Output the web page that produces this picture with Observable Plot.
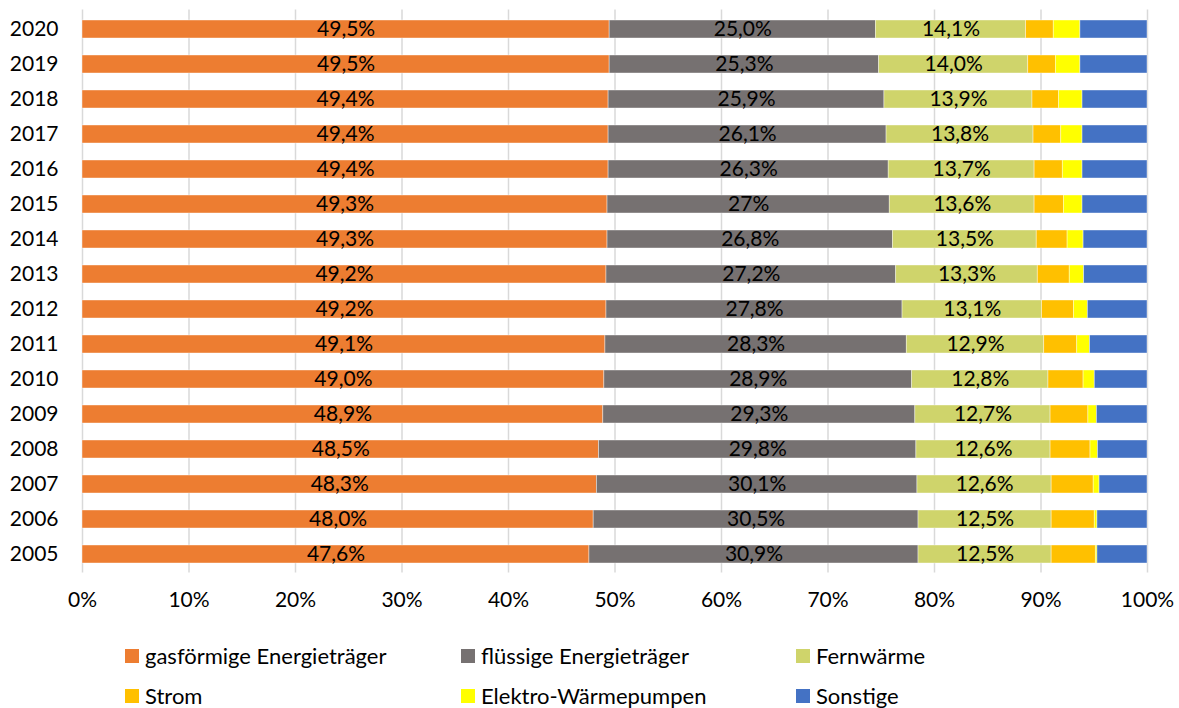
<!DOCTYPE html>
<html>
<head>
<meta charset="utf-8">
<script src="https://cdn.jsdelivr.net/npm/d3@7"></script>
<script src="https://cdn.jsdelivr.net/npm/@observablehq/plot@0.6"></script>
<style>
  html, body { margin: 0; padding: 0; background: #fff; }
  #wrap { position: relative; width: 1179px; height: 708px; font-family: Lato, "Open Sans", sans-serif; color: #000; }
  .item { position: absolute; display: flex; align-items: center; height: 14px; font-size: 22px; white-space: nowrap; }
  .sw { width: 14px; height: 14px; margin-right: 6px; flex: none; }
  .item span { line-height: 14px; }
</style>
</head>
<body>
<div id="wrap"><div id="chart"></div></div>
<script>
const years = ["2020","2019","2018","2017","2016","2015","2014","2013","2012","2011","2010","2009","2008","2007","2006","2005"];
const seriesNames = ["gasförmige Energieträger","flüssige Energieträger","Fernwärme","Strom","Elektro-Wärmepumpen","Sonstige"];
const seriesColors = ["#ED7D31","#767171","#CFD46B","#FFC000","#FFFF00","#4472C4"];
const gas      = [49.5,49.5,49.4,49.4,49.4,49.3,49.3,49.2,49.2,49.1,49.0,48.9,48.5,48.3,48.0,47.6];
const fluessig = [25.0,25.3,25.9,26.1,26.3,26.5,26.8,27.2,27.8,28.3,28.9,29.3,29.8,30.1,30.5,30.9];
const fernwaerme = [14.1,14.0,13.9,13.8,13.7,13.6,13.5,13.3,13.1,12.9,12.8,12.7,12.6,12.6,12.5,12.5];
const strom    = [2.6,2.6,2.5,2.6,2.65,2.75,2.9,3.0,3.0,3.1,3.3,3.55,3.75,3.95,4.05,4.15];
const waermepumpen = [2.5,2.3,2.2,2.0,1.85,1.75,1.5,1.35,1.3,1.2,1.05,0.8,0.7,0.55,0.25,0.15];
const sonstige = [6.3,6.3,6.1,6.1,6.1,6.1,6.0,5.95,5.6,5.4,4.95,4.75,4.65,4.5,4.7,4.7];
const xTicks = [0,10,20,30,40,50,60,70,80,90,100];
const labelledSeries = ["gasförmige Energieträger","flüssige Energieträger","Fernwärme"];
const labelOverrides = {"2015|flüssige Energieträger": "27%"};

const seriesValues = [gas, fluessig, fernwaerme, strom, waermepumpen, sonstige];
const data = [];
years.forEach((y, i) => {
  seriesNames.forEach((s, j) => data.push({year: y, series: s, value: seriesValues[j][i]}));
});
const fmt = d => {
  if (!labelledSeries.includes(d.series)) return null;
  const k = d.year + "|" + d.series;
  if (labelOverrides[k]) return labelOverrides[k];
  return d.value.toFixed(1).replace(".", ",") + "%";
};

const chart = Plot.plot({
  width: 1179,
  height: 620,
  marginLeft: 82,
  marginRight: 32,
  marginTop: 9.4,
  marginBottom: 47.4,
  style: {fontFamily: "Lato, 'Open Sans', sans-serif", fontSize: "21px", color: "#000", background: "#fff"},
  x: {domain: [0, 100], ticks: xTicks, tickFormat: d => d + "%", tickSize: 0, tickPadding: 20, label: null},
  y: {domain: years, paddingInner: 0.5, paddingOuter: 0.25, tickSize: 0, tickPadding: 24, label: null},
  color: {domain: seriesNames, range: seriesColors},
  marks: [
    Plot.gridX(xTicks, {stroke: "#d9d9d9", strokeOpacity: 1, strokeWidth: 1.5}),
    Plot.barX(data, {x: "value", y: "year", fill: "series", order: seriesNames, stroke: "#fff", strokeOpacity: 0.5, strokeWidth: 0.8}),
    Plot.text(data, Plot.stackX({x: "value", y: "year", z: "series", order: seriesNames, text: fmt, fontSize: 21, fill: "#000"})),
    Plot.axisX({ticks: xTicks, tickFormat: d => d + "%", tickSize: 0, tickPadding: 19, fontSize: 21, fill: "#000"}),
    Plot.axisY({tickSize: 0, tickPadding: 24, fontSize: 21, fill: "#000"})
  ]
});
document.getElementById("chart").appendChild(chart);

const legendCols = [125, 461, 796];
const legendRows = [649, 689];
const wrap = document.getElementById("wrap");
seriesNames.forEach((s, i) => {
  const it = document.createElement("div");
  it.className = "item";
  it.style.left = legendCols[i % 3] + "px";
  it.style.top = legendRows[Math.floor(i / 3)] + "px";
  const sw = document.createElement("div");
  sw.className = "sw";
  sw.style.background = seriesColors[i];
  const tx = document.createElement("span");
  tx.textContent = s;
  it.appendChild(sw);
  it.appendChild(tx);
  wrap.appendChild(it);
});
</script>
</body>
</html>
